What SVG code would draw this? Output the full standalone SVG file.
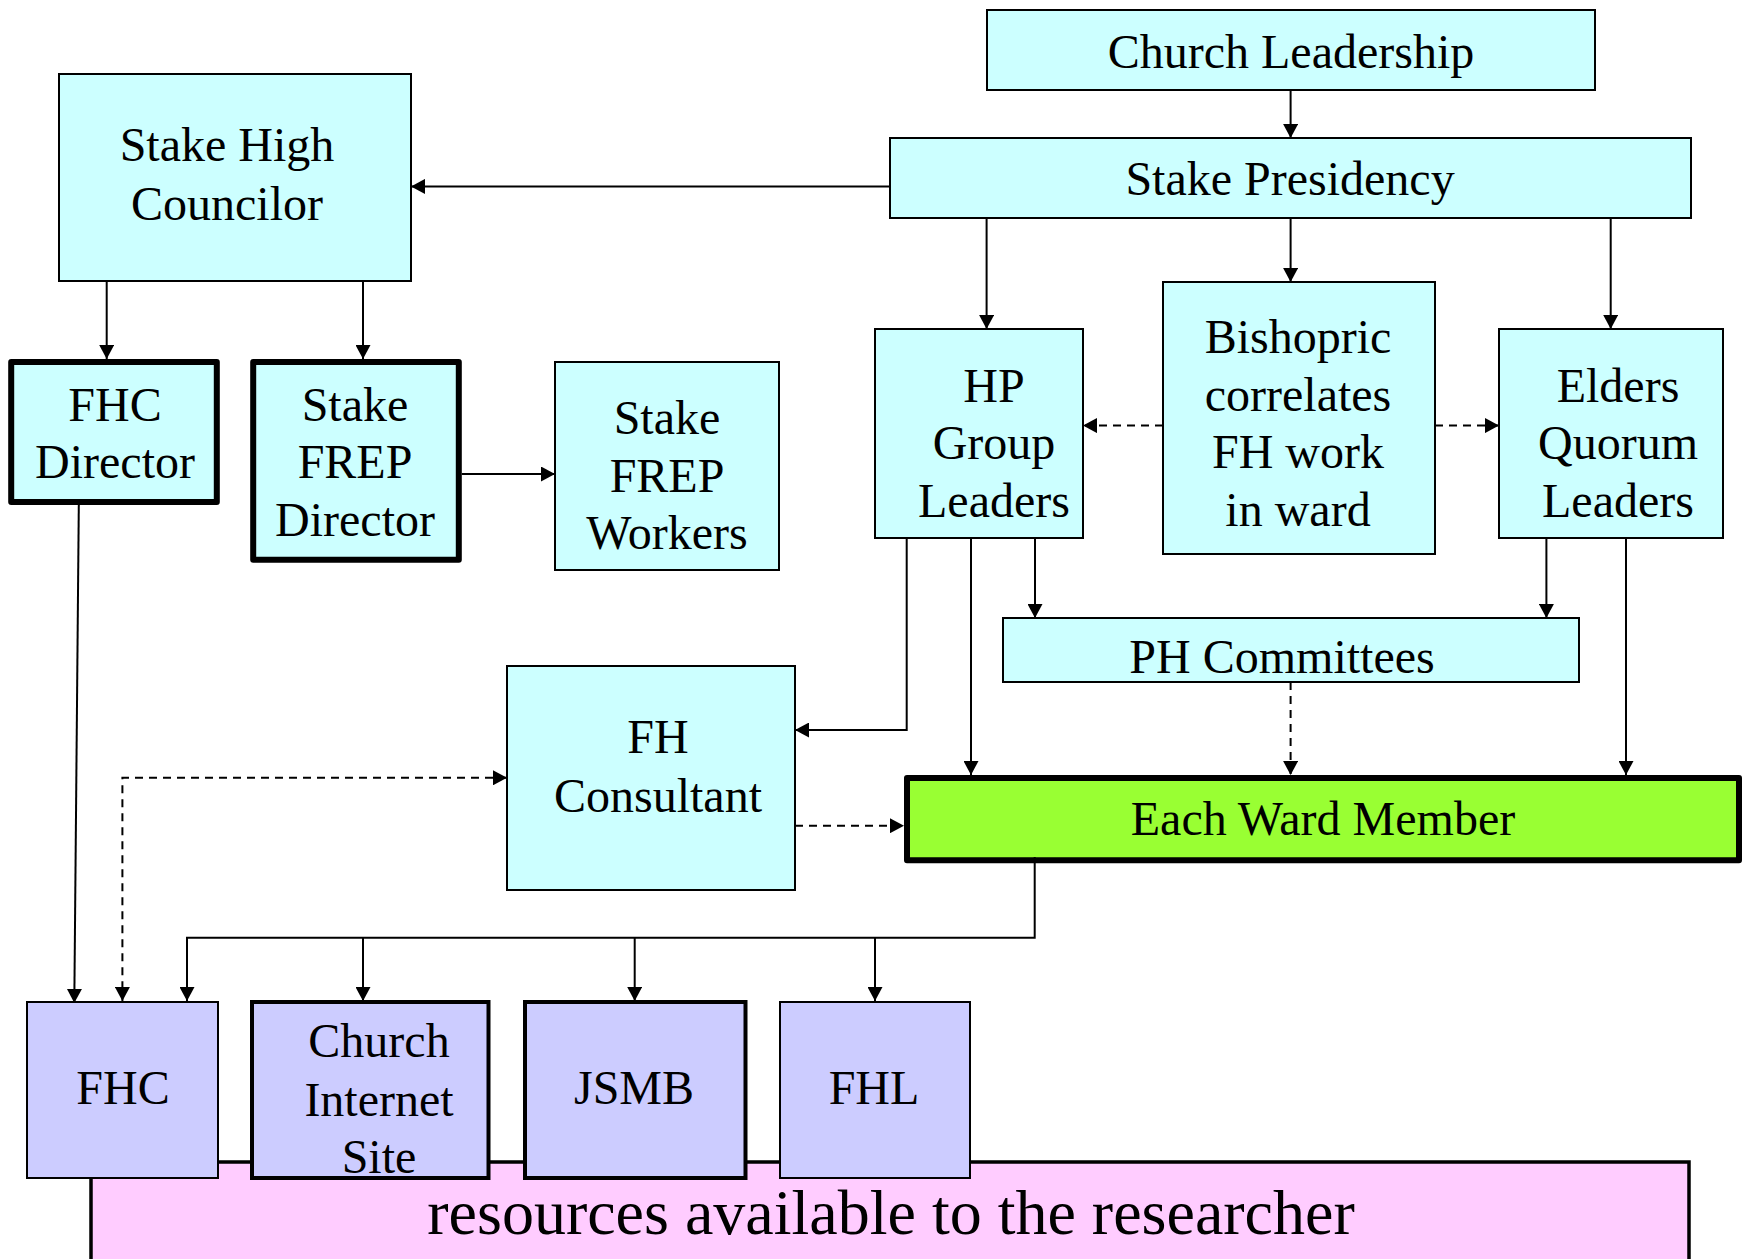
<svg xmlns="http://www.w3.org/2000/svg" width="1752" height="1259" viewBox="0 0 1752 1259">
<style>
text{font-family:"Liberation Serif","Times New Roman",serif;font-size:48px;fill:#000;text-anchor:middle}
.cy{fill:#CCFFFF;stroke:#000;stroke-width:2}
.cyt{fill:#CCFFFF;stroke:#000;stroke-width:6;stroke-linejoin:round}
.pu{fill:#CCCCFF;stroke:#000;stroke-width:2}
.put{fill:#CCCCFF;stroke:#000;stroke-width:4}
.gr{fill:#99FF33;stroke:#000;stroke-width:6;stroke-linejoin:round}
.pk{fill:#FFCCFF;stroke:#000;stroke-width:3.5}
.ln{fill:none;stroke:#000;stroke-width:2}
.ds{fill:none;stroke:#000;stroke-width:2;stroke-dasharray:8 6}
</style>
<defs>
<marker id="arr" markerWidth="14" markerHeight="15" refX="14" refY="7.5" orient="auto" markerUnits="userSpaceOnUse"><path d="M0,0 L14,7.5 L0,15 z" fill="#000"/></marker>
<marker id="arrs" markerWidth="14" markerHeight="15" refX="0" refY="7.5" orient="auto" markerUnits="userSpaceOnUse"><path d="M14,0 L0,7.5 L14,15 z" fill="#000"/></marker>
</defs>
<rect width="1752" height="1259" fill="#fff"/>

<g id="resources">
<rect class="pk" x="91" y="1162" width="1598" height="130"/>
<text x="891" y="1234" style="font-size:64px">resources available to the researcher</text>
</g>

<g id="church-leadership">
<rect class="cy" x="987" y="10" width="608" height="80"/>
<text x="1291" y="68">Church Leadership</text>
</g>
<g id="stake-presidency">
<rect class="cy" x="890" y="138" width="801" height="80"/>
<text x="1290" y="195">Stake Presidency</text>
</g>
<g id="stake-high-councilor">
<rect class="cy" x="59" y="74" width="352" height="207"/>
<text x="227" y="161">Stake High</text>
<text x="227" y="220">Councilor</text>
</g>
<g id="fhc-director">
<rect class="cyt" x="11.2" y="362" width="205.6" height="140"/>
<text x="115" y="421">FHC</text>
<text x="115" y="478">Director</text>
</g>
<g id="stake-frep-director">
<rect class="cyt" x="253.2" y="362" width="205.6" height="197.7"/>
<text x="355" y="421">Stake</text>
<text x="355" y="478">FREP</text>
<text x="355" y="536">Director</text>
</g>
<g id="stake-frep-workers">
<rect class="cy" x="555" y="362" width="224" height="208"/>
<text x="667" y="434">Stake</text>
<text x="667" y="492">FREP</text>
<text x="667" y="549">Workers</text>
</g>
<g id="hp-group-leaders">
<rect class="cy" x="875" y="329" width="208" height="209"/>
<text x="994" y="402">HP</text>
<text x="994" y="459">Group</text>
<text x="994" y="517">Leaders</text>
</g>
<g id="bishopric">
<rect class="cy" x="1163" y="282" width="272" height="272"/>
<text x="1298" y="353">Bishopric</text>
<text x="1298" y="411">correlates</text>
<text x="1298" y="468">FH work</text>
<text x="1298" y="526">in ward</text>
</g>
<g id="elders-quorum-leaders">
<rect class="cy" x="1499" y="329" width="224" height="209"/>
<text x="1618" y="402">Elders</text>
<text x="1618" y="459">Quorum</text>
<text x="1618" y="517">Leaders</text>
</g>
<g id="ph-committees">
<rect class="cy" x="1003" y="618" width="576" height="64"/>
<text x="1282" y="673">PH Committees</text>
</g>
<g id="fh-consultant">
<rect class="cy" x="507" y="666" width="288" height="224"/>
<text x="658" y="753">FH</text>
<text x="658" y="812">Consultant</text>
</g>
<g id="each-ward-member">
<rect class="gr" x="907" y="778" width="832" height="82.3"/>
<text x="1323" y="835">Each Ward Member</text>
</g>
<g id="fhc">
<rect class="pu" x="27" y="1002" width="191" height="176"/>
<text x="123" y="1104">FHC</text>
</g>
<g id="church-internet-site">
<rect class="put" x="252" y="1002" width="236.5" height="176"/>
<text x="379" y="1057">Church</text>
<text x="379" y="1116">Internet</text>
<text x="379" y="1173">Site</text>
</g>
<g id="jsmb">
<rect class="put" x="525" y="1002" width="220.5" height="176"/>
<text x="634" y="1104">JSMB</text>
</g>
<g id="fhl">
<rect class="pu" x="780" y="1002" width="190" height="176"/>
<text x="874" y="1104">FHL</text>
</g>

<g id="connectors">
<path class="ln" d="M1290.6,90 V138" marker-end="url(#arr)"/>
<path class="ln" d="M890,186.4 H411" marker-end="url(#arr)"/>
<path class="ln" d="M106.7,281 V359" marker-end="url(#arr)"/>
<path class="ln" d="M363,281 V359" marker-end="url(#arr)"/>
<path class="ln" d="M461.8,474 H555" marker-end="url(#arr)"/>
<path class="ln" d="M986.6,218 V329" marker-end="url(#arr)"/>
<path class="ln" d="M1290.6,218 V282" marker-end="url(#arr)"/>
<path class="ln" d="M1610.7,218 V329" marker-end="url(#arr)"/>
<path class="ds" d="M1163,425.6 H1083" marker-end="url(#arr)"/>
<path class="ds" d="M1435,425.6 H1499" marker-end="url(#arr)"/>
<path class="ln" d="M906.7,538 V730 H795" marker-end="url(#arr)"/>
<path class="ln" d="M971,538 V775" marker-end="url(#arr)"/>
<path class="ln" d="M1035,538 V618" marker-end="url(#arr)"/>
<path class="ln" d="M1546.4,538 V618" marker-end="url(#arr)"/>
<path class="ln" d="M1626,538 V775" marker-end="url(#arr)"/>
<path class="ds" d="M1290.6,682 V775" marker-end="url(#arr)"/>
<path class="ds" d="M795,825.7 H904" marker-end="url(#arr)"/>
<path class="ds" d="M507,777.8 H122.4 V1001" marker-start="url(#arrs)" marker-end="url(#arr)"/>
<path class="ln" d="M78.8,505 L74.3,1003" marker-end="url(#arr)"/>
<path class="ln" d="M1034.7,857 V937.7 H187 V1001" marker-end="url(#arr)"/>
<path class="ln" d="M363,937.7 V1001" marker-end="url(#arr)"/>
<path class="ln" d="M634.7,937.7 V1001" marker-end="url(#arr)"/>
<path class="ln" d="M875,937.7 V1001" marker-end="url(#arr)"/>
</g>
</svg>
